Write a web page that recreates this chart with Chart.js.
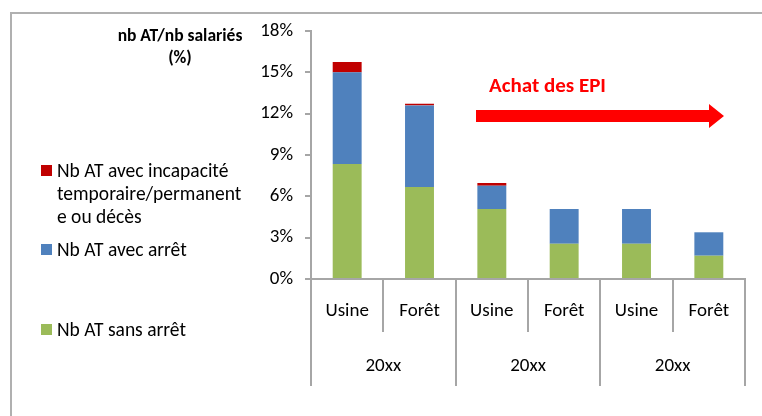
<!DOCTYPE html>
<html>
<head>
<meta charset="utf-8">
<script src="https://cdn.jsdelivr.net/npm/chart.js@4"></script>
<style>
    html, body { margin: 0; padding: 0; background: #fff; }
    #wrap { position: relative; width: 762px; height: 416px; overflow: hidden; font-family: Carlito, Lato, sans-serif; }
    #frame { position: absolute; left: 10px; top: 12px; width: 800px; height: 500px; border-top: 2px solid #b0b0b0; border-left: 2px solid #b0b0b0; }
    #chart { position: absolute; left: 0; top: 0; }
    #titre { position: absolute; left: 90px; top: 24px; width: 180px; text-align: center; font-weight: bold; font-size: 17.5px; line-height: 22px; color: #000; }
    .leg { position: absolute; left: 41px; font-size: 19.5px; line-height: 23px; color: #000; white-space: nowrap; }
    .leg i { position: absolute; left: 0; top: 6px; width: 11px; height: 11px; }
    .leg span { display: block; margin-left: 16px; }
</style>
</head>
<body>
<div id="wrap">
    <div id="frame"></div>
    <canvas id="chart" width="762" height="416"></canvas>
    <div id="titre">nb AT/nb salariés<br>(%)</div>
    <div id="legende"></div>
</div>
<script>
const categories = ["Usine", "Forêt", "Usine", "Forêt", "Usine", "Forêt"]
const groupes = ["20xx", "20xx", "20xx"]
const sansArret = [8.35, 6.68, 5.08, 2.56, 2.56, 1.69]
const avecArret = [6.65, 5.92, 1.69, 2.52, 2.52, 1.70]
const incapacite = [0.75, 0.12, 0.20, 0, 0, 0]
const yTicks = [0, 3, 6, 9, 12, 15, 18]

const series = [
    { label: ["Nb AT sans arrêt"], data: sansArret, color: "#9BBB59" },
    { label: ["Nb AT avec arrêt"], data: avecArret, color: "#4F81BD" },
    { label: ["Nb AT avec incapacité", "temporaire/permanent", "e ou décès"], data: incapacite, color: "#C00000" }
]

// legende a gauche (ordre inverse, comme Excel)
const legendeTop = [159, 238, 318]
const legende = document.getElementById("legende")
series.slice().reverse().forEach((s, i) => {
    const div = document.createElement("div")
    div.className = "leg"
    div.style.top = legendeTop[i] + "px"
    div.innerHTML = `<i style="background:${s.color}"></i><span>${s.label.join("<br>")}</span>`
    legende.appendChild(div)
})

const axe = "#a6a6a6"
const police = "Carlito, Lato, sans-serif"

// groupes d'annees sous l'axe + fleche "Achat des EPI"
const decor = {
    id: "decor",
    afterDraw(chart) {
        const ctx = chart.ctx
        const x = chart.scales.x
        const y0 = x.top
        ctx.save()
        ctx.strokeStyle = axe
        ctx.lineWidth = 2
        ctx.fillStyle = "#000"
        ctx.font = "19px " + police
        ctx.textAlign = "center"
        ctx.textBaseline = "middle"
        const step = (x.right - x.left) / categories.length
        for (let g = 0; g <= groupes.length; g++) {
            const gx = Math.round(x.left + step * 2 * g)
            ctx.beginPath()
            ctx.moveTo(gx, y0)
            ctx.lineTo(gx, y0 + 107)
            ctx.stroke()
        }
        groupes.forEach((lab, g) => {
            const cx = (x.getPixelForValue(2 * g) + x.getPixelForValue(2 * g + 1)) / 2
            ctx.fillText(lab, cx, y0 + 87)
        })

        // fleche
        ctx.fillStyle = "#FF0000"
        ctx.beginPath()
        ctx.moveTo(476, 110)
        ctx.lineTo(709, 110)
        ctx.lineTo(709, 104)
        ctx.lineTo(724, 116)
        ctx.lineTo(709, 128)
        ctx.lineTo(709, 122)
        ctx.lineTo(476, 122)
        ctx.closePath()
        ctx.fill()
        ctx.font = "bold 21px " + police
        ctx.textAlign = "left"
        ctx.fillText("Achat des EPI", 489, 87)
        ctx.restore()
    }
}

new Chart(document.getElementById("chart"), {
    type: "bar",
    data: {
        labels: categories,
        datasets: series.map(s => ({
            label: s.label.join(""),
            data: s.data,
            backgroundColor: s.color,
            borderWidth: 0,
            categoryPercentage: 1,
            barPercentage: 0.4
        }))
    },
    options: {
        responsive: false,
        animation: false,
        layout: { padding: { left: 251, right: 17, top: 31, bottom: 30 } },
        plugins: { legend: { display: false }, tooltip: { enabled: false } },
        scales: {
            x: {
                stacked: true,
                afterFit(scale) { scale.height = 107 },
                border: { color: axe, width: 2 },
                grid: { drawOnChartArea: false, color: axe, lineWidth: 2, tickLength: 53, offset: true },
                ticks: { color: "#000", padding: -32, font: { size: 19, family: police } }
            },
            y: {
                stacked: true,
                min: 0,
                max: 18,
                afterFit(scale) { scale.width = 60 },
                afterBuildTicks(scale) { scale.ticks = yTicks.map(v => ({ value: v })) },
                border: { color: axe, width: 2 },
                grid: { drawOnChartArea: false, color: axe, lineWidth: 2, tickLength: 6 },
                ticks: {
                    color: "#000",
                    padding: 12,
                    font: { size: 19, family: police },
                    callback: v => v + "%"
                }
            }
        }
    },
    plugins: [decor]
})
</script>
</body>
</html>
